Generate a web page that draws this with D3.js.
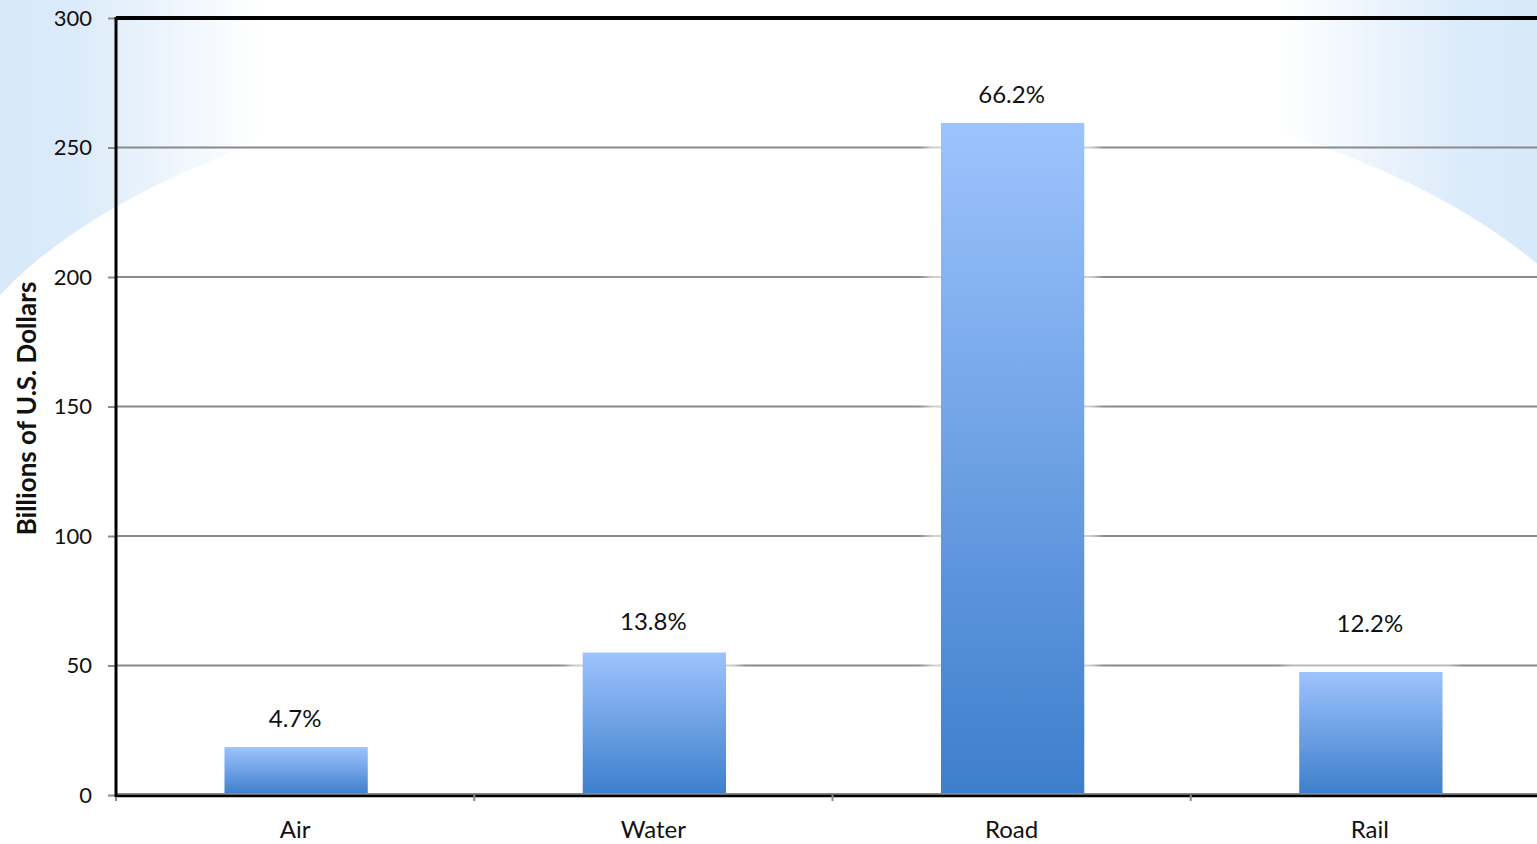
<!DOCTYPE html>
<html>
<head>
<meta charset="utf-8">
<script src="https://cdn.jsdelivr.net/npm/d3@7"></script>
<style>
  html, body { margin: 0; padding: 0; background: #fff; overflow: hidden; }
  text { font-family: Lato, "Open Sans", sans-serif; }
</style>
</head>
<body>
<div id="chart"></div>
<script>
// data
var modes = ["Air", "Water", "Road", "Rail"];
var values = [18.5, 55, 259.5, 47.5];
var shares = ["4.7%", "13.8%", "66.2%", "12.2%"];
var yTicks = [0, 50, 100, 150, 200, 250, 300];
var yTitle = "Billions of U.S. Dollars";

var W = 1537, H = 844;
var margin = { top: 18, left: 116, bottom: 49 },
  width = 1433,
  height = H - margin.top - margin.bottom;

var svg = d3.select("#chart").append("svg")
  .attr("width", W)
  .attr("height", H);

var defs = svg.append("defs");

// slide background: pale blue at the top corners, white arc below
var bg = defs.append("linearGradient").attr("id", "bgGrad")
  .attr("x1", "0%").attr("x2", "100%").attr("y1", "0%").attr("y2", "0%");
bg.append("stop").attr("offset", "0%").attr("stop-color", "#d7e9fa");
bg.append("stop").attr("offset", "5%").attr("stop-color", "#dcebfa");
bg.append("stop").attr("offset", "17%").attr("stop-color", "#ffffff");
bg.append("stop").attr("offset", "83%").attr("stop-color", "#ffffff");
bg.append("stop").attr("offset", "95%").attr("stop-color", "#dcebfa");
bg.append("stop").attr("offset", "100%").attr("stop-color", "#d7e9fa");

var barGrad = defs.append("linearGradient").attr("id", "barGrad")
  .attr("x1", "0%").attr("x2", "0%").attr("y1", "0%").attr("y2", "100%");
barGrad.append("stop").attr("offset", "0%").attr("stop-color", "#9dc3fd");
barGrad.append("stop").attr("offset", "100%").attr("stop-color", "#3d7ecc");

var blur = defs.append("filter").attr("id", "halo")
  .attr("x", "-20%").attr("y", "-20%").attr("width", "140%").attr("height", "140%");
blur.append("feGaussianBlur").attr("stdDeviation", 4);

svg.append("rect").attr("width", W).attr("height", H).attr("fill", "url(#bgGrad)");
svg.append("ellipse")
  .attr("cx", 785).attr("cy", 441)
  .attr("rx", 850).attr("ry", 380)
  .attr("fill", "#fff");
svg.append("rect")
  .attr("x", 0).attr("y", 441)
  .attr("width", W).attr("height", H - 441)
  .attr("fill", "#fff");

var g = svg.append("g")
  .attr("transform", "translate(" + margin.left + "," + margin.top + ")");

var x = d3.scaleBand().domain(modes).range([0, width])
  .paddingInner(0.6).paddingOuter(0.3);
var y = d3.scaleLinear().domain([0, 300]).range([height, 0]);

// gridlines
g.append("g").selectAll("line")
  .data(yTicks.filter(function (d) { return d > 0 && d < 300; }))
  .enter().append("line")
  .attr("x1", 0).attr("x2", width)
  .attr("y1", function (d) { return y(d); })
  .attr("y2", function (d) { return y(d); })
  .attr("stroke", "#8a8a8a")
  .attr("stroke-width", 2);

// y axis
var yAxis = g.append("g")
  .call(d3.axisLeft(y).tickValues(yTicks).tickSize(8).tickPadding(16));
yAxis.select(".domain").remove();
yAxis.selectAll(".tick line").attr("stroke", "#8a8a8a").attr("stroke-width", 2);
yAxis.selectAll(".tick text")
  .attr("font-size", 22)
  .attr("fill", "#111")
  .style("font-family", "Lato, sans-serif");

// soft halo behind each bar, lightens the gridlines near it
g.append("g").selectAll("rect")
  .data(modes)
  .enter().append("rect")
  .attr("x", function (d) { return x(d) - 14; })
  .attr("width", x.bandwidth() + 28)
  .attr("y", function (d, i) { return y(values[i]) - 9; })
  .attr("height", function (d, i) { return height - y(values[i]) + 12; })
  .attr("fill", "#fff")
  .attr("opacity", 0.6)
  .attr("filter", "url(#halo)");

// bars
g.append("g").selectAll("rect")
  .data(modes)
  .enter().append("rect")
  .attr("x", function (d) { return x(d) + 1; })
  .attr("width", x.bandwidth())
  .attr("y", function (d, i) { return y(values[i]); })
  .attr("height", function (d, i) { return height - y(values[i]); })
  .attr("fill", "url(#barGrad)");

// value labels (Rail's sits a bit higher in the original)
var lift = { Rail: 20, Water: 3 };
g.append("g").selectAll("text")
  .data(modes)
  .enter().append("text")
  .attr("x", function (d) { return x(d) + x.bandwidth() / 2; })
  .attr("y", function (d, i) { return y(values[i]) - 20 - (lift[d] || 0); })
  .attr("text-anchor", "middle")
  .attr("font-size", 24)
  .attr("fill", "#111")
  .text(function (d, i) { return shares[i]; });

// bottom axis: gray line, black base, ticks at band edges
var xAxis = g.append("g").attr("transform", "translate(0," + height + ")");
xAxis.append("line")
  .attr("x1", 0).attr("x2", width).attr("y1", -1).attr("y2", -1)
  .attr("stroke", "#8a8a8a").attr("stroke-width", 2);
xAxis.append("line")
  .attr("x1", 0).attr("x2", width).attr("y1", 1).attr("y2", 1)
  .attr("stroke", "#000").attr("stroke-width", 2.5);
xAxis.selectAll(".edge")
  .data(modes)
  .enter().append("line")
  .attr("class", "edge")
  .attr("x1", function (d) { return x(d) - x.step() * 0.3; })
  .attr("x2", function (d) { return x(d) - x.step() * 0.3; })
  .attr("y1", 0).attr("y2", 6)
  .attr("stroke", "#8a8a8a").attr("stroke-width", 2);
xAxis.selectAll(".cat")
  .data(modes)
  .enter().append("text")
  .attr("class", "cat")
  .attr("x", function (d) { return x(d) + x.bandwidth() / 2; })
  .attr("y", 43)
  .attr("text-anchor", "middle")
  .attr("font-size", 24)
  .attr("fill", "#111")
  .text(function (d) { return d; });

// frame: black left and top lines
g.append("line")
  .attr("x1", 0).attr("x2", width).attr("y1", 0).attr("y2", 0)
  .attr("stroke", "#000").attr("stroke-width", 4);
g.append("line")
  .attr("x1", 0).attr("x2", 0).attr("y1", -1).attr("y2", height + 2)
  .attr("stroke", "#000").attr("stroke-width", 3);

// axis title
svg.append("text")
  .attr("transform", "translate(36," + (margin.top + height / 2 + 2) + ") rotate(-90)")
  .attr("text-anchor", "middle")
  .attr("font-size", 26)
  .attr("font-weight", "bold")
  .attr("fill", "#111")
  .text(yTitle);
</script>
</body>
</html>
